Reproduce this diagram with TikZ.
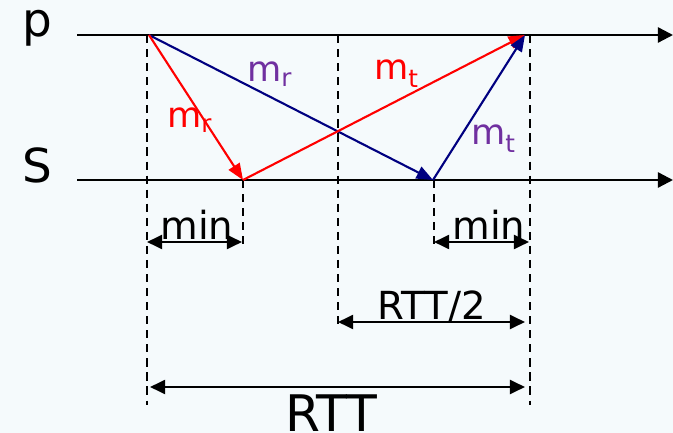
\documentclass[tikz,border=0pt]{standalone}
\usepackage{fontspec}
\setmainfont{DejaVu Sans}
\usetikzlibrary{arrows.meta, positioning}
\definecolor{msgred}{RGB}{255, 0, 0}
\definecolor{msgblue}{RGB}{0, 0, 128}
\definecolor{lblpurple}{RGB}{112, 48, 160}
\definecolor{paper}{RGB}{245, 250, 252}

\tikzset{
  timeline/.style={line width=2pt, -{Triangle[length=13pt, width=13pt]}},
  guide/.style={line width=1.6pt, dash pattern=on 7pt off 5pt},
  msg/.style={line width=1.8pt, -{Triangle[length=14pt, width=11pt]}},
  span/.style={line width=2pt, {Triangle[length=13pt, width=12pt]}-{Triangle[length=13pt, width=12pt]}},
  proc/.style={font=\fontsize{40}{40}\selectfont, inner sep=0pt, anchor=base},
  spanlbl/.style={font=\fontsize{33}{33}\selectfont, inner sep=0pt, anchor=base},
  msglbl/.style={font=\fontsize{30}{30}\selectfont, inner sep=0pt, anchor=base west},
}

\begin{document}
\begin{tikzpicture}[x=0.03cm, y=-0.03cm]
  \fill[paper] (0,0) rectangle (673,433);
  \useasboundingbox (0,0) rectangle (673,433);

  % processes
  \node[proc] (plbl) at (37,37) {p};
  \node[proc] (slbl) at (37,183) {S};
  \coordinate (pstart) at (77,35);
  \coordinate (pend) at (673,35);
  \coordinate (sstart) at (77,180);
  \coordinate (send) at (673,180);
  \draw[timeline] (pstart) -- (pend);
  \draw[timeline] (sstart) -- (send);

  % events
  \coordinate (req) at (149,35);
  \coordinate (rrecv) at (243,180);
  \coordinate (brecv) at (433,180);
  \coordinate (back) at (525,35);

  % guides
  \draw[guide] (147,35) -- (147,405);
  \draw[guide] (243,180) -- (243,250);
  \draw[guide] (338,35) -- (338,325);
  \draw[guide] (434,180) -- (434,250);
  \draw[guide] (530,35) -- (530,405);

  % messages
  \draw[msg, msgblue] (req) -- (brecv);
  \draw[msg, msgred] (req) -- (rrecv);
  \draw[msg, msgred] (rrecv) -- (back);
  \draw[msg, msgblue] (brecv) -- (back);

  \node[msglbl, lblpurple] (mr1) at (247,82) {m\textsubscript{r}};
  \node[msglbl, msgred] (mr2) at (167,128) {m\textsubscript{r}};
  \node[msglbl, msgred] (mt1) at (374,80) {m\textsubscript{t}};
  \node[msglbl, lblpurple] (mt2) at (471,145) {m\textsubscript{t}};

  % spans
  \coordinate (min1a) at (147,242);
  \coordinate (min1b) at (242,242);
  \coordinate (min2a) at (434,242);
  \coordinate (min2b) at (529,242);
  \coordinate (halfa) at (338,322);
  \coordinate (halfb) at (525,322);
  \coordinate (rtta) at (150,387);
  \coordinate (rttb) at (525,387);
  \draw[span] (min1a) -- (min1b);
  \draw[span] (min2a) -- (min2b);
  \draw[span] (halfa) -- (halfb);
  \draw[span] (rtta) -- (rttb);

  \node[spanlbl] (min1) at (197,240) {min};
  \node[spanlbl] (min2) at (489,240) {min};
  \node[spanlbl] (half) at (432,320) {RTT/2};
  \node[spanlbl, font=\fontsize{43}{43}\selectfont] (rtt) at (331,431) {RTT};
\end{tikzpicture}
\end{document}
